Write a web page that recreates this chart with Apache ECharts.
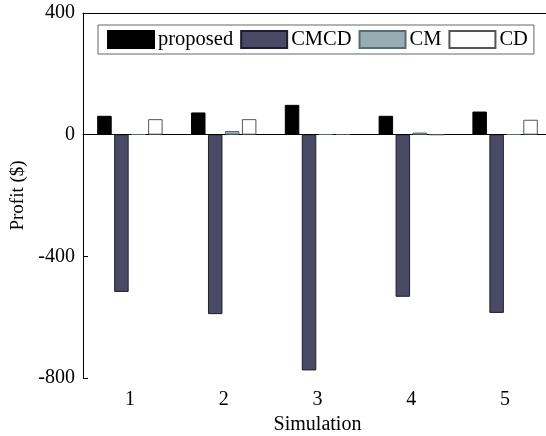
<!DOCTYPE html>
<html>
<head>
<meta charset="utf-8">
<script src="https://cdn.jsdelivr.net/npm/echarts@6/dist/echarts.min.js"></script>
<style>
  html, body { margin: 0; padding: 0; background: #fff; }
  #chart { width: 546px; height: 436px; }
</style>
</head>
<body>
<div id="chart"></div>
<script>
// Profit per simulation run for each strategy
var simulations = ['1', '2', '3', '4', '5'];
var proposed = [62, 73, 98, 62, 76];
var cmcd = [-517, -590, -775, -533, -586];
var cm = [1, 12, 1, 7, 1];
var cd = [51, 51, 1, 0, 49];
var yTicks = [-800, -400, 0, 400];

var serif = '"Liberation Serif", "Times New Roman", serif';

var chart = echarts.init(document.getElementById('chart'), null, { renderer: 'canvas' });

function barSeries(name, data, fill, edge) {
  return {
    name: name,
    type: 'bar',
    data: data,
    barWidth: 14.5,
    barGap: '17%',
    itemStyle: { color: fill, borderColor: edge, borderWidth: 1 }
  };
}

var series = [
  barSeries('proposed', proposed, '#000000', '#000000'),
  barSeries('CMCD', cmcd, '#4a4966', '#1e1e2a'),
  barSeries('CM', cm, '#95adb3', '#5a6a6e'),
  barSeries('CD', cd, '#ffffff', '#555555')
];

// zero baseline across the plot
series[0].markLine = {
  silent: true,
  symbol: 'none',
  z: 1,
  label: { show: false },
  lineStyle: { color: '#000', width: 1, type: 'solid' },
  data: [{ yAxis: 0 }]
};

chart.setOption({
  animation: false,
  backgroundColor: '#fff',
  grid: { left: 83, right: -6, top: 13, bottom: 58, outerBoundsMode: 'none', containLabel: false },
  legend: {
    left: 98,
    top: 25,
    itemWidth: 46,
    itemHeight: 17,
    itemGap: 7,
    padding: [4, 6, 4, 9],
    borderColor: '#666',
    borderWidth: 1,
    backgroundColor: '#fff',
    textStyle: { fontFamily: serif, fontSize: 20.5, color: '#000', padding: [0, 0, 0, -1] },
    icon: 'rect',
    data: ['proposed', 'CMCD', 'CM', 'CD']
  },
  xAxis: [{
    type: 'category',
    data: simulations,
    name: 'Simulation',
    nameLocation: 'middle',
    nameGap: 32,
    nameTextStyle: { fontFamily: serif, fontSize: 20, color: '#000' },
    axisLine: { lineStyle: { color: '#000', width: 1 } },
    axisTick: { alignWithLabel: true, inside: true, length: 5, lineStyle: { color: '#000' } },
    axisLabel: { fontFamily: serif, fontSize: 20, color: '#000', margin: 12 },
    splitLine: { show: false }
  }, {
    type: 'category',
    data: simulations,
    position: 'top',
    axisLine: { lineStyle: { color: '#000', width: 1 } },
    axisTick: { alignWithLabel: true, inside: true, length: 5, lineStyle: { color: '#000' } },
    axisLabel: { show: false },
    splitLine: { show: false }
  }],
  yAxis: {
    type: 'value',
    min: yTicks[0],
    max: yTicks[yTicks.length - 1],
    interval: 400,
    name: 'Profit ($)',
    nameLocation: 'middle',
    nameGap: 51,
    nameTextStyle: { fontFamily: serif, fontSize: 19, color: '#000' },
    axisLine: { show: true, lineStyle: { color: '#000', width: 1 } },
    axisTick: { show: true, inside: true, length: 5, lineStyle: { color: '#000' } },
    axisLabel: { fontFamily: serif, fontSize: 20, color: '#000', margin: 8 },
    splitLine: { show: false }
  },
  series: series
});
</script>
</body>
</html>
